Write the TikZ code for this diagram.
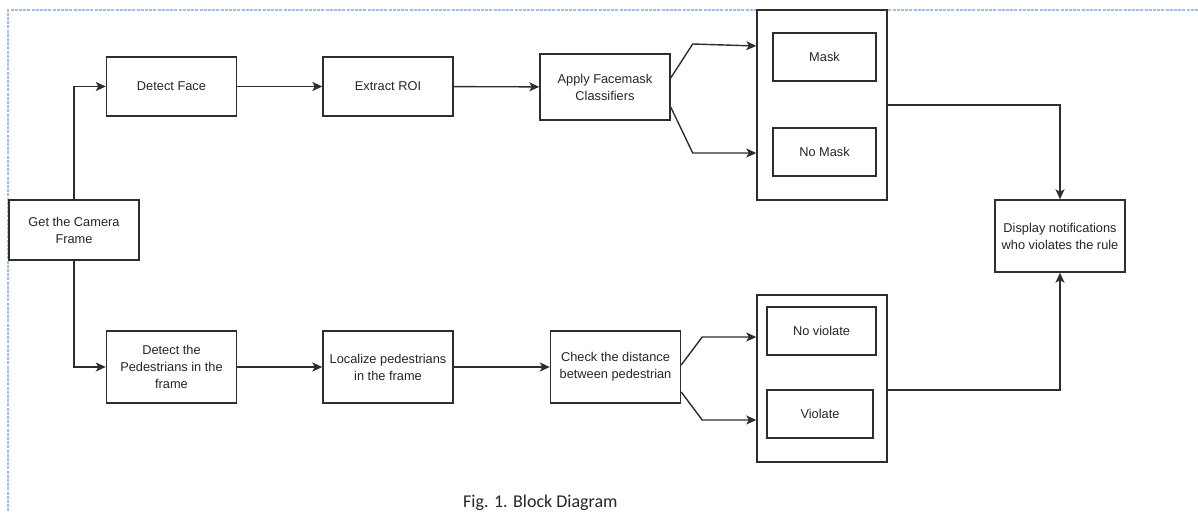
\documentclass[tikz,border=0pt]{standalone}
\usepackage{fontspec}
\setmainfont{Liberation Sans}
\newfontfamily\capfont{Carlito}
\usetikzlibrary{positioning,arrows.meta,calc}
\definecolor{lineclr}{HTML}{2E2E2E}
\definecolor{pageclr}{HTML}{9DBDEF}
\tikzset{
  blockbox/.style={draw=lineclr, line width=1.4pt, align=center, fill=white,
    font=\fontsize{12.8}{17}\selectfont, text=black!85, inner sep=1pt,
    minimum width=130pt, minimum height=59pt},
  groupbox/.style={draw=lineclr, line width=1.4pt, fill=white,
    minimum width=130pt},
  flowarrow/.style={-{Stealth[length=10pt, width=9pt, inset=2.5pt]}, line width=1.4pt, draw=lineclr},
  pageedge/.style={draw=pageclr, line width=1.3pt, dash pattern=on 3pt off 1.2pt},
  figcap/.style={font=\capfont\fontsize{18}{20}\selectfont, text=black!85, inner sep=0pt},
}
\begin{document}
\begin{tikzpicture}[x=1pt, y=-1pt]
  \useasboundingbox (0,0) rectangle (1198,513);
  % page edge
  \draw[pageedge] (1198,10) -- (8,10) -- (8,513);
  % input
  \node[blockbox, minimum height=60pt] (cam) at (74,230) {Get the Camera\\Frame};
  % face mask branch
  \node[blockbox] (face) at (171.5,86.5) {Detect Face};
  \node[blockbox] (roi) at (388,86.5) {Extract ROI};
  \node[blockbox, minimum height=66pt] (apply) at (605,87) {Apply Facemask\\Classifiers};
  \node[groupbox, minimum height=190pt] (maskgrp) at (822,105) {};
  \node[blockbox, minimum width=103pt, minimum height=48pt] (mask) at (824.5,57) {Mask};
  \node[blockbox, minimum width=103pt, minimum height=48pt] (nomask) at (824.5,152) {No Mask};
  % distance branch
  \node[blockbox, minimum height=72pt] (ped) at (171.5,367) {Detect the\\Pedestrians in the\\frame};
  \node[blockbox, minimum height=72pt] (loc) at (388,367) {Localize pedestrians\\in the frame};
  \node[blockbox, minimum height=72pt] (check) at (615.5,367) {Check the distance\\between pedestrian};
  \node[groupbox, minimum height=167pt] (violgrp) at (822,378.5) {};
  \node[blockbox, minimum width=109pt, minimum height=48pt] (noviol) at (821.5,331) {No violate};
  \node[blockbox, minimum width=106pt, minimum height=48pt] (viol) at (820,414) {Violate};
  % output
  \node[blockbox, minimum height=72pt] (disp) at (1060,236) {Display notifications\\who violates the rule};
  % connectors
  \draw[flowarrow] (cam.north) |- (face.west);
  \draw[flowarrow] (cam.south) |- (ped.west);
  \draw[flowarrow] (face) -- (roi);
  \draw[flowarrow] (roi) -- (apply);
  \draw[flowarrow] (ped) -- (loc);
  \draw[flowarrow] (loc) -- (check);
  \draw[flowarrow] ([yshift=9pt]apply.east) -- ++(22,-34) -- ([yshift=59pt]maskgrp.west);
  \draw[flowarrow] ([yshift=-20pt]apply.east) -- ++(22,46) -- ([yshift=-48pt]maskgrp.west);
  \draw[flowarrow] ([yshift=2pt]check.east) -- ++(21,-28) -- ([yshift=41.5pt]violgrp.west);
  \draw[flowarrow] ([yshift=-25pt]check.east) -- ++(21,28) -- ([yshift=-41.5pt]violgrp.west);
  \draw[flowarrow] (maskgrp.east) -| (disp.north);
  \draw[flowarrow] ([yshift=-11.5pt]violgrp.east) -| (disp.south);
  % caption
  \node[figcap, anchor=base west] (cap) at (463,507.5) {Fig. 1. Block Diagram};
\end{tikzpicture}
\end{document}
